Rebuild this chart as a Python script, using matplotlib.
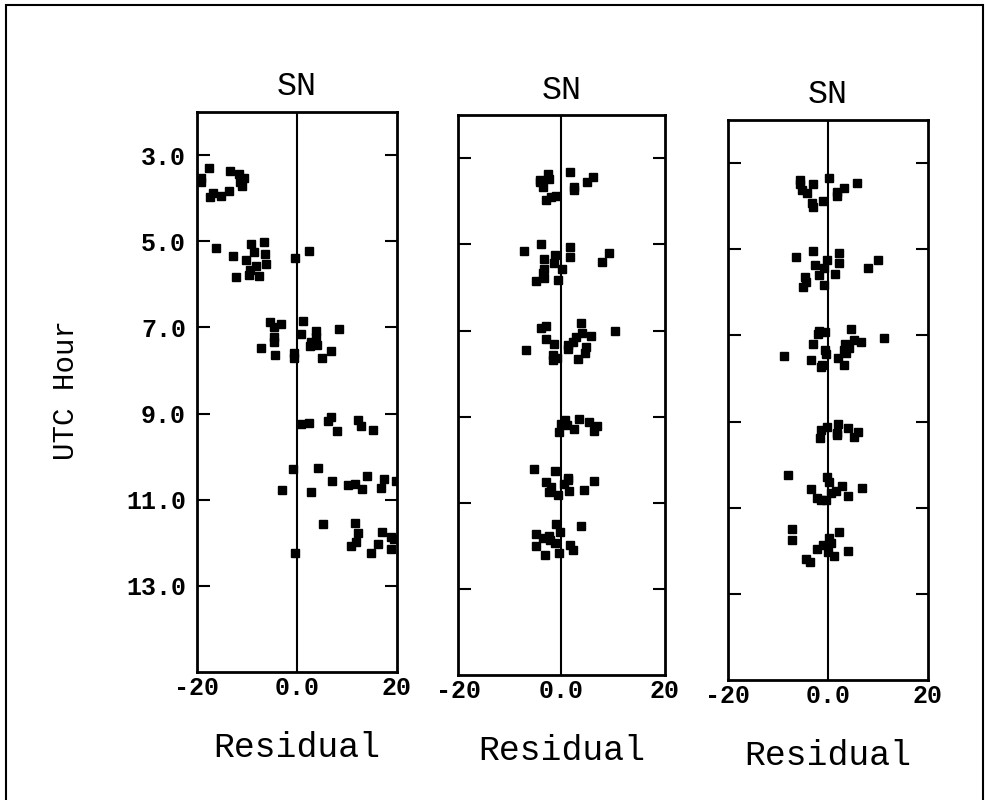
import matplotlib
matplotlib.use("Agg")
import matplotlib.pyplot as plt
from matplotlib.patches import Rectangle

# residuals vs UTC hour
x1 = [-17.5, -19.1, -19.1, -13.3, -11.5, -10.5, -10.9, -13.5, -15.2, -16.7, -17.4, -11.3,
      -16.2, -9.2, -6.6, -8.6, -6.3, -12.7, -10.1, -8.2, -6.1, -9.4, -9.6, -12.2, -7.5, -0.3, 2.4,
      -5.3, -3.1, -4.6, -4.6, -4.6, -7.1, -4.3, -0.5, -0.5, 1.3, 0.9, 3.8, 3.8, 2.9, 2.6, 4.1, 8.4, 6.9, 5.1,
      0.8, 2.5, 6.2, 6.8, 8.0, 12.2, 12.8, 15.2,
      -0.7, -3.0, 2.8, 4.2, 7.1, 10.2, 11.7, 13.0, 14.1, 16.8, 17.4, 19.9,
      5.3, 11.7, 12.3, 10.8, 11.9, 14.9, 16.3, 17.1, 18.9, 19.5, 18.9, -0.3]
y1 = [3.31, 3.54, 3.62, 3.36, 3.43, 3.54, 3.72, 3.83, 3.95, 3.89, 3.98, 3.62,
      5.15, 5.07, 5.02, 5.25, 5.29, 5.34, 5.44, 5.57, 5.54, 5.67, 5.79, 5.84, 5.81, 5.40, 5.22,
      6.88, 6.91, 6.99, 7.22, 7.33, 7.47, 7.65, 7.60, 7.72, 6.85, 7.16, 7.09, 7.22, 7.34, 7.44, 7.42, 7.03, 7.55, 7.70,
      9.24, 9.23, 9.18, 9.07, 9.40, 9.15, 9.30, 9.38,
      10.29, 10.78, 10.81, 10.26, 10.57, 10.67, 10.63, 10.75, 10.46, 10.74, 10.53, 10.56,
      11.57, 11.54, 11.77, 12.07, 11.98, 12.23, 12.03, 11.74, 11.86, 11.91, 12.15, 12.23]

x2 = [-2.6, -2.4, -4.2, -4.1, -3.5, 1.6, 2.4, 2.4, 6.1, 5.0, -2.9, -2.1, -1.1,
      -7.3, -4.0, 1.7, 1.7, -3.3, -1.2, -1.4, 0.1, -3.3, -3.6, -3.3, -5.0, -0.7, 9.1, 7.9,
      -3.9, -2.9, 3.7, 3.9, 5.8, 2.8, 2.3, 1.3, 1.2, 4.8, 4.5, 3.2, -2.9, -1.4, -6.9, -1.6, -1.6, -0.8, 10.3,
      0.7, 0.0, 1.0, 3.3, 2.5, 5.3, 6.8, 6.3, -0.5,
      -5.4, -1.2, 1.2, 1.3, 0.5, 1.5, -3.0, -2.1, -2.5, -0.6, 4.3, 6.2,
      -1.0, 3.8, -0.2, -5.0, -3.6, -2.4, -2.3, -1.3, -5.0, 1.6, 2.2, -3.2, -0.5]
y2 = [3.37, 3.48, 3.50, 3.56, 3.67, 3.33, 3.66, 3.74, 3.44, 3.55, 3.97, 3.91, 3.87,
      5.16, 5.00, 5.06, 5.29, 5.33, 5.25, 5.43, 5.56, 5.58, 5.67, 5.79, 5.85, 5.83, 5.21, 5.40,
      6.95, 6.89, 6.82, 7.06, 7.13, 7.16, 7.27, 7.34, 7.42, 7.38, 7.52, 7.67, 7.19, 7.32, 7.46, 7.57, 7.69, 7.63, 7.01,
      9.08, 9.16, 9.19, 9.05, 9.28, 9.13, 9.21, 9.34, 9.36,
      10.21, 10.25, 10.42, 10.47, 10.56, 10.72, 10.52, 10.64, 10.75, 10.81, 10.69, 10.50,
      11.49, 11.54, 11.68, 11.72, 11.82, 11.78, 11.85, 11.92, 12.01, 11.97, 12.09, 12.20, 12.16]

x3 = [0.3, -5.5, -5.5, -3.0, -5.2, -4.2, 5.8, 3.3, 1.8, 1.8, -0.9, -3.1, -2.9,
      -6.3, -3.0, 2.2, 2.2, -0.1, -2.5, -0.8, -1.7, 1.4, -4.6, -4.3, -4.9, -0.8, 10.1, 8.1,
      -1.8, -2.0, -0.5, 4.7, -3.0, -0.5, -0.4, -8.8, -3.4, -1.2, -1.3, 3.5, 4.2, 3.2, 3.6, 5.2, 6.7, 2.0, 3.2, 11.3,
      -0.2, -1.3, 2.1, 4.1, 1.8, 1.8, 6.1, 5.3, -1.5,
      -8.0, -0.1, 0.2, -3.3, 2.8, 6.8, 1.6, 0.6, 4.1, -2.2, -1.4, -0.3,
      -7.2, -7.1, 2.2, 0.3, 0.7, -0.9, -2.1, 0.0, 1.3, 4.0, -4.3, -3.5]
y3 = [3.35, 3.40, 3.48, 3.48, 3.62, 3.70, 3.47, 3.58, 3.67, 3.77, 3.87, 3.93, 4.03,
      5.17, 5.03, 5.09, 5.31, 5.26, 5.36, 5.44, 5.60, 5.57, 5.65, 5.77, 5.87, 5.83, 5.25, 5.44,
      6.90, 6.96, 6.91, 6.86, 7.20, 7.34, 7.43, 7.48, 7.57, 7.69, 7.74, 7.19, 7.30, 7.34, 7.42, 7.11, 7.15, 7.53, 7.69, 7.05,
      9.12, 9.19, 9.06, 9.14, 9.26, 9.31, 9.24, 9.36, 9.38,
      10.25, 10.29, 10.40, 10.56, 10.50, 10.54, 10.62, 10.67, 10.73, 10.77, 10.83, 10.83,
      11.50, 11.74, 11.57, 11.71, 11.82, 11.87, 11.95, 12.03, 12.12, 12.01, 12.19, 12.25]

hour_ticks = [3, 5, 7, 9, 11, 13]
hour_labels = ["3.0", "5.0", "7.0", "9.0", "11.0", "13.0"]
res_ticks = [-20, 0, 20]
res_labels = ["-20", "0.0", "20"]

panels = [(x1, y1), (x2, y2), (x3, y3)]
rects = [[0.200, 0.160, 0.203, 0.700],
         [0.465, 0.156, 0.210, 0.700],
         [0.739, 0.150, 0.203, 0.700]]

plt.rcParams['font.family'] = ['Liberation Mono', 'DejaVu Sans Mono']

fig = plt.figure(figsize=(9.85, 8), dpi=100)
fig.patches.append(Rectangle((0.006, -0.01), 0.992, 1.004, transform=fig.transFigure,
                             fill=False, lw=1.5, ec='black'))

for i, ((xs, ys), r) in enumerate(zip(panels, rects)):
    ax = fig.add_axes(r)
    ax.axvline(0, color='black', lw=1.5, zorder=1)
    ax.plot(xs, ys, 's', color='black', ms=5.8, zorder=2)
    ax.set_xlim(-20, 20)
    ax.set_ylim(15, 2)
    for s in ax.spines.values():
        s.set_linewidth(2)
    ax.set_yticks(hour_ticks)
    if i == 0:
        ax.set_yticklabels(hour_labels, fontsize=18, fontweight='bold')
    else:
        ax.set_yticklabels([])
    ax.tick_params(axis='y', direction='in', length=9, width=1.5, left=True, right=True, pad=8)
    ax.set_xticks(res_ticks)
    ax.set_xticklabels(res_labels, fontsize=18, fontweight='bold')
    ax.tick_params(axis='x', length=0, pad=3)
    ax.set_title('SN', fontsize=24, pad=12)
    ax.set_xlabel('Residual', fontsize=25, labelpad=22)

fig.text(0.067, 0.512, 'UTC Hour', rotation=90, va='center', ha='center', fontsize=21)

plt.savefig("out.png", dpi=100)
